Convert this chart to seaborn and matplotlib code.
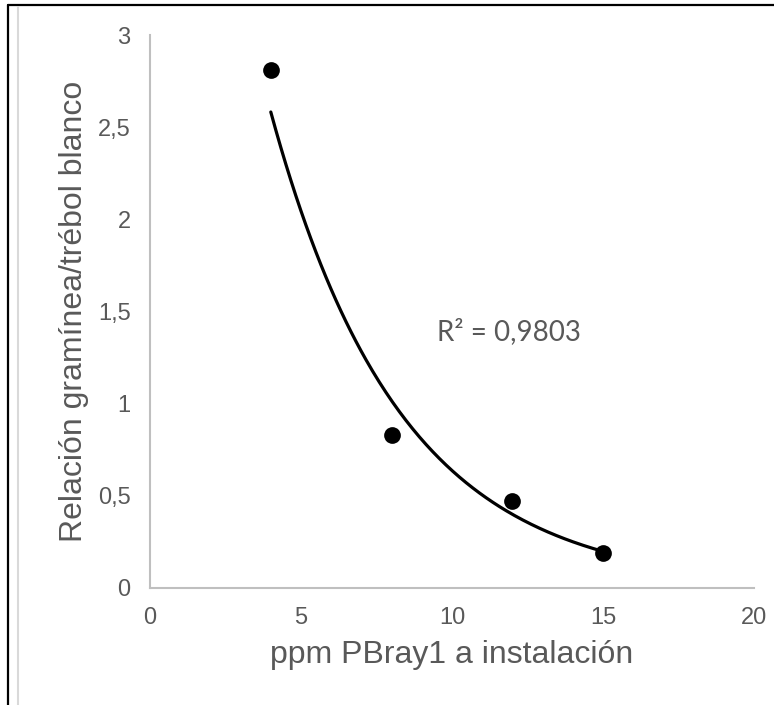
import numpy as np
import pandas as pd
import matplotlib
matplotlib.use("Agg")
import matplotlib.pyplot as plt
from matplotlib.lines import Line2D
import seaborn as sns

# Data
ppm = [4, 8, 12, 15]
ratio = [2.81, 0.83, 0.47, 0.19]
x_ticks = [0, 5, 10, 15, 20]
y_ticks = [0, 0.5, 1, 1.5, 2, 2.5, 3]
y_tick_labels = ["0", "0,5", "1", "1,5", "2", "2,5", "3"]
x_label = "ppm PBray1 a instalación"
y_label = "Relación gramínea/trébol blanco"
r2_label = "R² = 0,9803"

sns.set_style("white")
plt.rcParams["font.family"] = ["Liberation Sans", "DejaVu Sans"]

df = pd.DataFrame({"ppm": ppm, "ratio": ratio})

fig = plt.figure(figsize=(7.74, 7.05), dpi=100)
ax = fig.add_axes([150 / 774, 117 / 705, 604 / 774, 553 / 705])

# Exponential trendline (least squares on log values, like Excel)
b, ln_a = np.polyfit(df["ppm"], np.log(df["ratio"]), 1)
xs = np.linspace(min(ppm), max(ppm), 200)
trend = pd.DataFrame({"ppm": xs, "fit": np.exp(ln_a) * np.exp(b * xs)})
sns.lineplot(data=trend, x="ppm", y="fit", ax=ax, color="black", linewidth=2.3, zorder=2)

sns.scatterplot(data=df, x="ppm", y="ratio", ax=ax, color="black", s=145,
                edgecolor="black", linewidth=0, zorder=3)

ax.set_xlim(0, 20)
ax.set_ylim(0, 3)
ax.set_xticks(x_ticks)
ax.set_xticklabels([str(t) for t in x_ticks])
ax.set_yticks(y_ticks)
ax.set_yticklabels(y_tick_labels)
ax.tick_params(axis="both", length=0, labelsize=17, labelcolor="#595959")
ax.tick_params(axis="x", pad=14)
ax.tick_params(axis="y", pad=14)

for side in ["top", "right"]:
    ax.spines[side].set_visible(False)
for side in ["left", "bottom"]:
    ax.spines[side].set_color("#bfbfbf")
    ax.spines[side].set_linewidth(1.5)

ax.set_xlabel(x_label, fontsize=23, color="#595959")
ax.set_ylabel(y_label, fontsize=23, color="#595959")
ax.xaxis.set_label_coords(0.5, -0.121)
ax.xaxis.label.set_va("center")
ax.yaxis.set_label_coords(-0.125, 0.5)
ax.yaxis.label.set_va("center")

ax.text(0.475, 0.463, r2_label, transform=ax.transAxes, fontsize=20,
        color="#595959", ha="left", va="center", family=["Lato", "DejaVu Sans"])

# Outer frame lines (black top/left, light grey inner left)
fig.add_artist(Line2D([8 / 774, 1.0], [1 - 5 / 705, 1 - 5 / 705], transform=fig.transFigure,
                      color="black", linewidth=1.6))
fig.add_artist(Line2D([8 / 774, 8 / 774], [0, 1 - 5 / 705], transform=fig.transFigure,
                      color="black", linewidth=1.6))
fig.add_artist(Line2D([17.5 / 774, 17.5 / 774], [0, 1 - 7 / 705], transform=fig.transFigure,
                      color="#d9d9d9", linewidth=1.5))

fig.savefig("out.png", dpi=100, facecolor="white")
